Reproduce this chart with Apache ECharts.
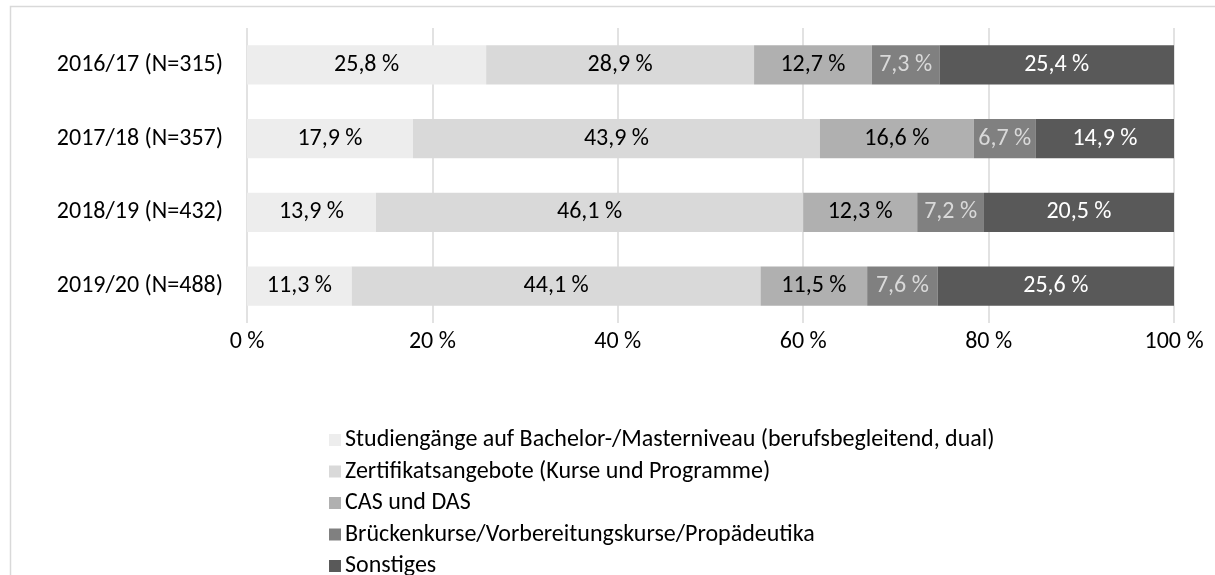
<!DOCTYPE html>
<html>
<head>
<meta charset="utf-8">
<script src="https://cdn.jsdelivr.net/npm/echarts@6/dist/echarts.min.js"></script>
<style>
  html, body { margin: 0; padding: 0; background: #fff; }
  #chart { width: 1215px; height: 575px; }
</style>
</head>
<body>
<div id="chart"></div>
<script>
var categories = ['2016/17 (N=315)', '2017/18 (N=357)', '2018/19 (N=432)', '2019/20 (N=488)'];
var seriesNames = [
    'Studiengänge auf Bachelor-/Masterniveau (berufsbegleitend, dual)',
    'Zertifikatsangebote (Kurse und Programme)',
    'CAS und DAS',
    'Brückenkurse/Vorbereitungskurse/Propädeutika',
    'Sonstiges'
];
var studiengaenge = [25.8, 17.9, 13.9, 11.3];
var zertifikate = [28.9, 43.9, 46.1, 44.1];
var casDas = [12.7, 16.6, 12.3, 11.5];
var brueckenkurse = [7.3, 6.7, 7.2, 7.6];
var sonstiges = [25.4, 14.9, 20.5, 25.6];
var xTicks = [0, 20, 40, 60, 80, 100];

var colors = ['#ededed', '#d9d9d9', '#b0b0b0', '#808080', '#595959'];
var labelColors = ['#000', '#000', '#000', '#d9d9d9', '#fff'];
var font = 'Carlito, Lato, sans-serif';
var fs = 24;

var chart = echarts.init(document.getElementById('chart'));
var allData = [studiengaenge, zertifikate, casDas, brueckenkurse, sonstiges];
var series = [];
for (var i = 0; i < allData.length; i++) {
    series.push({
        name: seriesNames[i],
        type: 'bar',
        stack: 'total',
        barWidth: '53%',
        data: allData[i],
        itemStyle: { color: colors[i] },
        label: {
            show: true,
            position: 'inside',
            color: labelColors[i],
            fontSize: fs,
            fontFamily: font,
            formatter: function (p) {
                return p.value.toFixed(1).replace('.', ',') + ' %';
            }
        }
    });
}

chart.setOption({
    animation: false,
    graphic: [{
        type: 'rect',
        shape: { x: 10.5, y: 6.5, width: 1250, height: 600 },
        style: { fill: 'none', stroke: '#d9d9d9', lineWidth: 1.5 },
        silent: true
    }],
    grid: { left: 247, right: 41, top: 28, bottom: 252 },
    legend: {
        orient: 'vertical',
        left: 329,
        top: 428,
        height: 160,
        padding: 0,
        itemWidth: 12,
        itemHeight: 12,
        itemGap: 7.5,
        icon: 'rect',
        textStyle: { fontSize: fs, lineHeight: 24, fontFamily: font, color: '#000', padding: [0, 0, 0, -1] },
        data: seriesNames
    },
    xAxis: {
        type: 'value',
        min: 0,
        max: 100,
        interval: 20,
        axisLine: { show: false },
        axisTick: { show: false },
        splitLine: { lineStyle: { color: '#d9d9d9', width: 1.5 } },
        axisLabel: {
            fontSize: fs,
            fontFamily: font,
            color: '#000',
            margin: 7,
            formatter: function (v) {
                return xTicks.indexOf(v) >= 0 ? v + ' %' : '';
            }
        }
    },
    yAxis: {
        type: 'category',
        inverse: true,
        data: categories,
        axisLine: { show: false },
        axisTick: { show: false },
        axisLabel: { fontSize: fs, fontFamily: font, color: '#000', margin: 24 }
    },
    series: series
});
</script>
</body>
</html>
